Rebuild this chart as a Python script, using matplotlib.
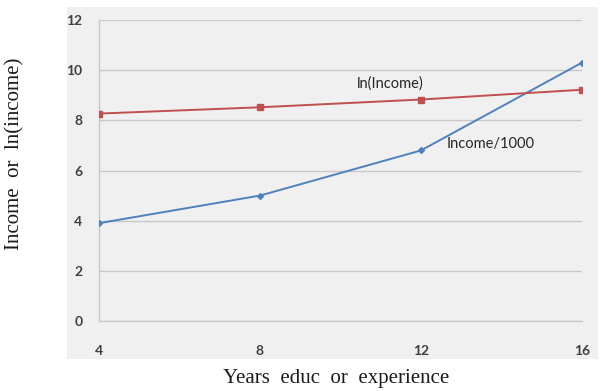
import numpy as np
import matplotlib.pyplot as plt
from matplotlib.patches import Rectangle

# data
years = [4, 8, 12, 16]
income_k = [3.9, 5.0, 6.8, 10.3]
ln_income = [8.27, 8.52, 8.83, 9.22]
y_ticks = [0, 2, 4, 6, 8, 10, 12]

fig = plt.figure(figsize=(6.01, 3.91), dpi=100)

# light gray chart panel behind the plot
panel = Rectangle((67 / 601, 1 - 359 / 391), (598 - 67) / 601, (359 - 7) / 391,
                  transform=fig.transFigure, facecolor='#f0f0f0', edgecolor='none', zorder=-1)
fig.add_artist(panel)

ax = fig.add_axes([99 / 601, 1 - 321 / 391, (582 - 99) / 601, (321 - 20) / 391])
ax.set_zorder(1)
ax.set_facecolor('#f0f0f0')

ax.plot(years, income_k, color='#4f81bd', linewidth=1.4, marker='D', markersize=3, zorder=3)
ax.plot(years, ln_income, color='#c0504d', linewidth=1.4, marker='s', markersize=5, zorder=3)

ax.set_xlim(4, 16)
ax.set_ylim(0, 12)
ax.set_xticks(years)
ax.set_yticks(y_ticks)
ax.grid(axis='y', color='#c8c8c8', linewidth=1)
ax.set_axisbelow(True)

for s in ['top', 'right']:
    ax.spines[s].set_visible(False)
for s in ['left', 'bottom']:
    ax.spines[s].set_color('#c8c8c8')
    ax.spines[s].set_linewidth(1)

ax.tick_params(axis='both', length=0, labelsize=10, labelcolor='#404040')
ax.tick_params(axis='x', pad=17)
ax.tick_params(axis='y', pad=12)
for lbl in ax.get_xticklabels() + ax.get_yticklabels():
    lbl.set_family('Lato')
    lbl.set_fontweight('bold')

ax.text(11.23, 9.48, 'ln(Income)', fontsize=10.5, family='Lato', color='#262626',
        ha='center', va='center')
ax.text(13.74, 7.05, 'Income/1000', fontsize=10.5, family='Lato', color='#262626',
        ha='center', va='center')

fig.text(336 / 601, 1 - 378 / 391, 'Years  educ  or  experience', family='Liberation Serif',
         fontsize=15, color='#1a1a1a', ha='center', va='center')
fig.text(15 / 601, 1 - 154 / 391, 'Income  or  ln(income)', family='Liberation Serif',
         fontsize=15, color='#1a1a1a', ha='center', va='center', rotation=90)

fig.savefig('out.png', dpi=100)
